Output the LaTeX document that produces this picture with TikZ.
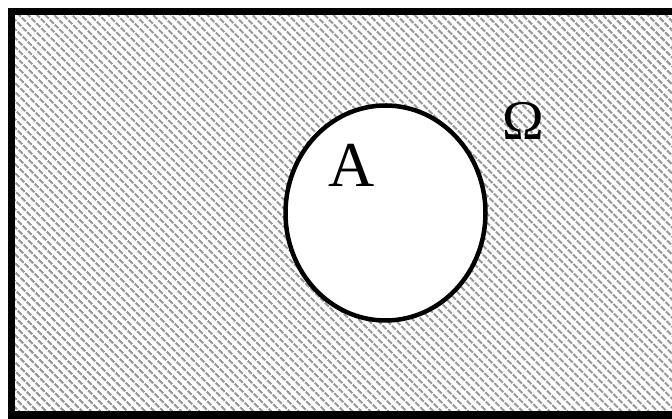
\documentclass[tikz,border=0pt]{standalone}
\usepackage{fontspec}
\setmainfont{Liberation Serif}
\usetikzlibrary{patterns.meta}
\begin{document}
\begin{tikzpicture}[x=1pt,y=-1pt,
  frame/.style={draw=black,line width=7pt,pattern={Lines[angle=-45,distance=6.5pt,line width=2.6pt]},pattern color=black!40},
  lbl/.style={inner sep=0pt,anchor=center}]
\useasboundingbox (0,0) rectangle (672,419);
\fill[white] (0,0) rectangle (672,419);
\path[frame] (11.5,11.5) rectangle (700,415);
\draw[draw=black,line width=4.5pt,fill=white] (385.5,213) ellipse [x radius=100, y radius=107.5];
\node[lbl,font=\fontsize{64}{64}\selectfont] (a) at (352,165) {A};
\node[lbl,font=\fontsize{56}{56}\selectfont] (omega) at (523,121) {Ω};
\end{tikzpicture}
\end{document}
